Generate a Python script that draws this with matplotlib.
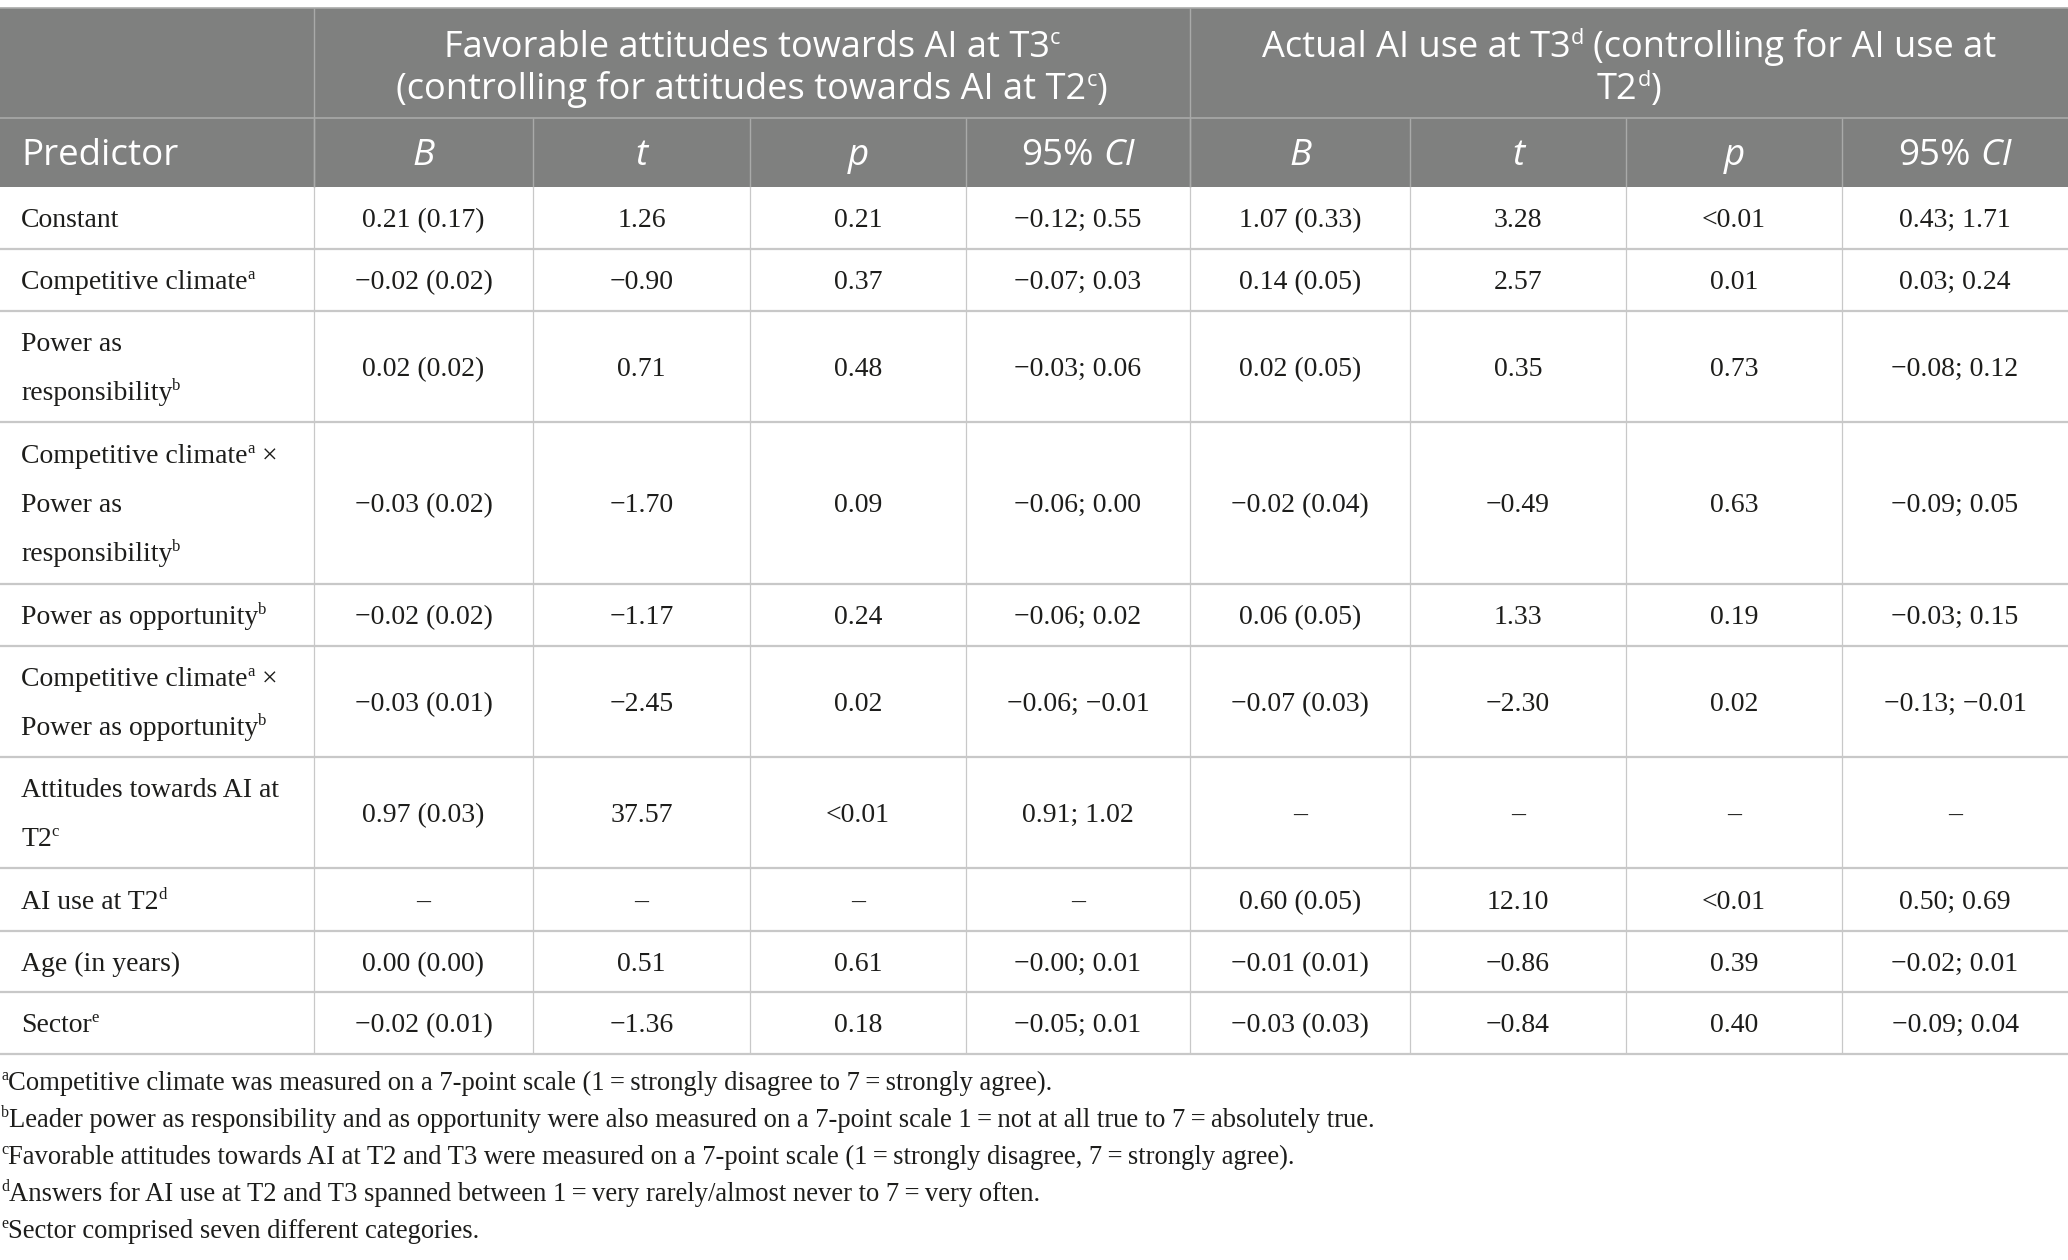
import matplotlib
matplotlib.use('Agg')
import matplotlib.pyplot as plt
from matplotlib.patches import Rectangle
from matplotlib.font_manager import FontProperties

# ---- table content ('^x' = superscript x, '*...*' = italic) ----
group_titles = [
    "Favorable attitudes towards AI at T3^c\n(controlling for attitudes towards AI at T2^c)",
    "Actual AI use at T3^d (controlling for AI use at\nT2^d)",
]
col_labels = ["Predictor", "*B*", "*t*", "*p*", "95% *CI*", "*B*", "*t*", "*p*", "95% *CI*"]

predictors = [
    "Constant",
    "Competitive climate^a",
    "Power as\nresponsibility^b",
    "Competitive climate^a ×\nPower as\nresponsibility^b",
    "Power as opportunity^b",
    "Competitive climate^a ×\nPower as opportunity^b",
    "Attitudes towards AI at\nT2^c",
    "AI use at T2^d",
    "Age (in years)",
    "Sector^e",
]
att_B = ["0.21 (0.17)", "−0.02 (0.02)", "0.02 (0.02)", "−0.03 (0.02)", "−0.02 (0.02)",
         "−0.03 (0.01)", "0.97 (0.03)", "–", "0.00 (0.00)", "−0.02 (0.01)"]
att_t = ["1.26", "−0.90", "0.71", "−1.70", "−1.17", "−2.45", "37.57", "–", "0.51", "−1.36"]
att_p = ["0.21", "0.37", "0.48", "0.09", "0.24", "0.02", "<0.01", "–", "0.61", "0.18"]
att_ci = ["−0.12; 0.55", "−0.07; 0.03", "−0.03; 0.06", "−0.06; 0.00", "−0.06; 0.02",
          "−0.06; −0.01", "0.91; 1.02", "–", "−0.00; 0.01", "−0.05; 0.01"]
use_B = ["1.07 (0.33)", "0.14 (0.05)", "0.02 (0.05)", "−0.02 (0.04)", "0.06 (0.05)",
         "−0.07 (0.03)", "–", "0.60 (0.05)", "−0.01 (0.01)", "−0.03 (0.03)"]
use_t = ["3.28", "2.57", "0.35", "−0.49", "1.33", "−2.30", "–", "12.10", "−0.86", "−0.84"]
use_p = ["<0.01", "0.01", "0.73", "0.63", "0.19", "0.02", "–", "<0.01", "0.39", "0.40"]
use_ci = ["0.43; 1.71", "0.03; 0.24", "−0.08; 0.12", "−0.09; 0.05", "−0.03; 0.15",
          "−0.13; −0.01", "–", "0.50; 0.69", "−0.02; 0.01", "−0.09; 0.04"]

footnotes = [
    "^aCompetitive climate was measured on a 7-point scale (1\u2009=\u2009strongly disagree to 7\u2009=\u2009strongly agree).",
    "^bLeader power as responsibility and as opportunity were also measured on a 7-point scale 1\u2009=\u2009not at all true to 7\u2009=\u2009absolutely true.",
    "^cFavorable attitudes towards AI at T2 and T3 were measured on a 7-point scale (1\u2009=\u2009strongly disagree, 7\u2009=\u2009strongly agree).",
    "^dAnswers for AI use at T2 and T3 spanned between 1\u2009=\u2009very rarely/almost never to 7\u2009=\u2009very often.",
    "^eSector comprised seven different categories.",
]

# ---- layout (pixels) ----
W, H = 2068, 1260
col_edges = [0, 314, 533, 750, 966, 1190, 1410, 1626, 1842, 2068]
row_edges = [187, 249, 311, 422, 584, 646, 757, 868, 931, 992, 1054]
head_top, head_mid = 8, 118

SERIF = ['Liberation Serif', 'DejaVu Serif']
SANS = ['Open Sans', 'DejaVu Sans']
HEAD_BG = '#7f807f'
HEAD_LINE = '#a9aaa9'
BODY_LINE = '#c8c8c8'
INK = '#1d1d1b'

fig = plt.figure(figsize=(W / 100, H / 100), dpi=100)
ax = fig.add_axes([0, 0, 1, 1])
ax.set_xlim(0, W)
ax.set_ylim(H, 0)
ax.axis('off')
renderer = fig.canvas.get_renderer()


def parse(s):
    runs, buf, italic, i = [], '', False, 0
    while i < len(s):
        c = s[i]
        if c == '^':
            if buf:
                runs.append((buf, 'it' if italic else 'n'))
                buf = ''
            runs.append((s[i + 1], 'sup'))
            i += 2
            continue
        if c == '*':
            if buf:
                runs.append((buf, 'it' if italic else 'n'))
                buf = ''
            italic = not italic
        else:
            buf += c
        i += 1
    if buf:
        runs.append((buf, 'it' if italic else 'n'))
    return runs


def fprop(family, size, kind):
    if kind == 'sup':
        return FontProperties(family=family, size=size * 0.6)
    if kind == 'it':
        return FontProperties(family=family, size=size, style='italic')
    return FontProperties(family=family, size=size)


def adv(text, fp):
    w1 = renderer.get_text_width_height_descent('|' + text + '|', fp, False)[0]
    w0 = renderer.get_text_width_height_descent('||', fp, False)[0]
    return w1 - w0


def line_width(runs, family, size):
    return sum(adv(t, fprop(family, size, k)) for t, k in runs)


def draw_line(x, y, runs, family, size, color):
    pen = x
    em = size * 100 / 72
    for t, k in runs:
        fp = fprop(family, size, k)
        lead = len(t) - len(t.lstrip(' '))
        core = t.strip(' ')
        if core:
            yy = y - 0.36 * em if k == 'sup' else y
            ax.text(pen + (adv(' ' * lead, fp) if lead else 0), yy, core,
                    fontproperties=fp, ha='left', va='baseline', color=color)
        pen += adv(t, fp)


def cell(text, x0, x1, y0, y1, family, size, color, align, gap, cap_ratio, pad=21, dy=0):
    lines = text.split('\n')
    cap = cap_ratio * size * 100 / 72
    first = (y0 + y1) / 2 + cap / 2 - (len(lines) - 1) * gap / 2 + dy
    for i, ln in enumerate(lines):
        runs = parse(ln)
        if align == 'left':
            x = x0 + pad
        else:
            x = (x0 + x1) / 2 - line_width(runs, family, size) / 2
        draw_line(x, first + i * gap, runs, family, size, color)


# header background and rules
ax.add_patch(Rectangle((0, head_top), W, row_edges[0] - head_top, color=HEAD_BG, lw=0))
ax.hlines([head_top, head_mid], 0, W, colors=HEAD_LINE, lw=1.2)
ax.vlines([col_edges[1], col_edges[5]], head_top, row_edges[0], colors=HEAD_LINE, lw=1.0)
ax.vlines(col_edges[1:-1], head_mid, row_edges[0], colors=HEAD_LINE, lw=1.0)

# body rules
ax.hlines(row_edges[1:], 0, W, colors=BODY_LINE, lw=1.6)
ax.vlines(col_edges[1:-1], row_edges[0], row_edges[-1], colors=BODY_LINE, lw=0.9)

# group titles
cell(group_titles[0], col_edges[1], col_edges[5], head_top, head_mid, SANS, 26, 'white', 'center', 42, 0.68, dy=3)
cell(group_titles[1], col_edges[5], col_edges[9], head_top, head_mid, SANS, 26, 'white', 'center', 42, 0.68, dy=3)

# column labels
for j, lab in enumerate(col_labels):
    cell(lab, col_edges[j], col_edges[j + 1], head_mid, row_edges[0], SANS, 26.5, 'white',
         'left' if j == 0 else 'center', 42, 0.68)

# body
columns = [predictors, att_B, att_t, att_p, att_ci, use_B, use_t, use_p, use_ci]
for i in range(len(predictors)):
    for j, col in enumerate(columns):
        cell(col[i], col_edges[j], col_edges[j + 1], row_edges[i], row_edges[i + 1], SERIF, 20, INK,
             'left' if j == 0 else 'center', 49, 0.66)

# footnotes
for i, note in enumerate(footnotes):
    draw_line(1, 1090 + 37 * i, parse(note), SERIF, 19.2, INK)

fig.savefig('out.png', dpi=100, facecolor='white')
